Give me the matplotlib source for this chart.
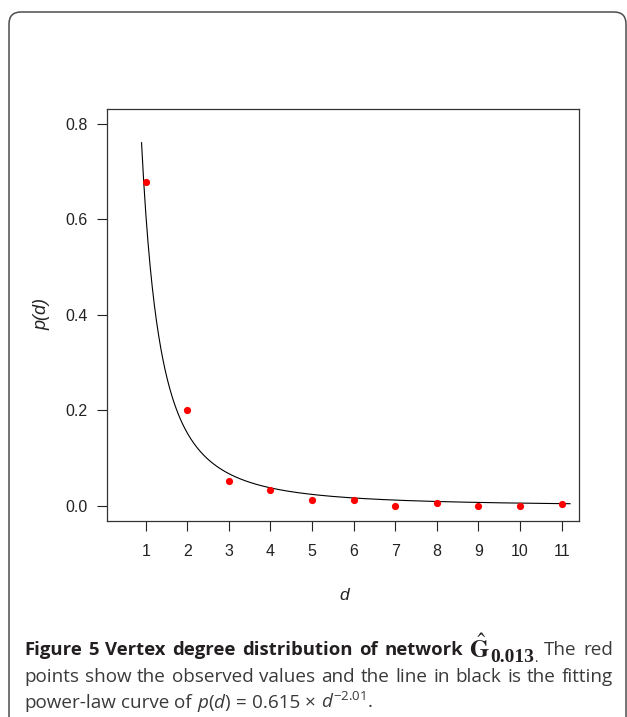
"""
Vertex degree distribution with fitted power-law curve (figure 5 style).
"""

import numpy as np
import matplotlib
matplotlib.use('Agg')
import matplotlib.pyplot as plt
from matplotlib.patches import FancyBboxPatch

# observed degree distribution
degrees = [1, 2, 3, 4, 5, 6, 7, 8, 9, 10, 11]
p_obs = [0.678, 0.200, 0.053, 0.034, 0.012, 0.012, 0.0, 0.006, 0.0, 0.0, 0.004]

# fitted power law p(d) = coef * d^expo, as quoted in the caption
fit_coef = 0.615
fit_expo = -2.01
fit_range = (0.9, 11.2)

yticks = [0.0, 0.2, 0.4, 0.6, 0.8]
ytick_labels = ['0.0', '0.2', '0.4', '0.6', '0.8']

W, H = 627, 717
plt.rcParams['mathtext.fontset'] = 'custom'
plt.rcParams['mathtext.rm'] = 'Open Sans'
plt.rcParams['mathtext.it'] = 'Open Sans:italic'
plt.rcParams['mathtext.bf'] = 'Open Sans:bold'

AXFONT = 'Liberation Sans'
CAPFONT = 'Open Sans'


def fx(px):
    return px / W


def fy(py):
    return 1 - py / H


def main():
    fig = plt.figure(figsize=(W / 100, H / 100), dpi=100)

    # rounded frame around the whole figure panel
    frame = FancyBboxPatch((0.09, -0.5), 6.17, 7.55,
                           boxstyle='round,pad=0,rounding_size=0.12',
                           transform=fig.dpi_scale_trans,
                           facecolor='none', edgecolor='#4d4d4d', linewidth=1.1)
    fig.add_artist(frame)

    left, right, top, bottom = 107, 579, 109, 521
    ax = fig.add_axes([fx(left), fy(bottom), fx(right - left), (bottom - top) / H])

    d = np.linspace(fit_range[0], fit_range[1], 400)
    ax.plot(d, fit_coef * d ** fit_expo, color='black', linewidth=0.8)
    ax.plot(degrees, p_obs, 'o', color='#ff0000', markersize=5.2, markeredgewidth=0)

    ax.set_xlim(0.07, 11.416)
    ax.set_ylim(-0.0314, 0.8305)
    ax.set_xticks(degrees)
    ax.set_xticklabels([str(v) for v in degrees], fontfamily=AXFONT, fontsize=11.5)
    ax.set_yticks(yticks)
    ax.set_yticklabels(ytick_labels, fontfamily=AXFONT, fontsize=11.5)
    ax.tick_params(axis='both', direction='out', length=7.2, width=0.8, colors='#222222')
    ax.tick_params(axis='x', pad=9)
    ax.tick_params(axis='y', pad=7)
    for sp in ax.spines.values():
        sp.set_color('#333333')
        sp.set_linewidth(0.9)

    fig.text(fx(41.7), fy(313.5), 'p(d)', rotation=90, ha='center', va='center',
             fontsize=13, style='italic', family=AXFONT, color='#222222')
    fig.text(fx(344), fy(595), 'd', style='italic', ha='center', va='center',
             fontsize=12.5, family=AXFONT, color='#222222')

    # caption, laid out word by word so the first two lines are justified
    renderer = fig.canvas.get_renderer()
    bold = dict(family=CAPFONT, fontweight='bold', fontsize=13.3, color='#231f20')
    reg = dict(family=CAPFONT, fontsize=13.6, color='#3a3a3a')
    ghat = dict(fontsize=18, color='#231f20', math_fontfamily='stix')
    gsub = dict(family='Liberation Serif', fontweight='bold', fontsize=14, color='#231f20')
    gdot = dict(family='Liberation Serif', fontsize=10, color='#231f20')

    # token: (text, props, baseline shift in px, glued to previous token)
    line1 = [(w, bold, 0, False) for w in
             'Figure 5 Vertex degree distribution of network'.split()]
    line1 += [(r'$\hat{\mathbf{G}}$', ghat, 3, False),
              ('0.013', gsub, 7, True), ('.', gdot, 7, True)]
    line1 += [(w, reg, 0, False) for w in 'The red'.split()]
    line2 = [(w, reg, 0, False) for w in
             'points show the observed values and the line in black is the fitting'.split()]
    line3 = [(w, reg, 0, False) for w in 'power-law curve of'.split()]
    line3 += [(r'$p$($d$)', reg, 0, False), ('=', reg, 0, False), ('0.615', reg, 0, False),
              ('\u00d7', reg, 0, False), (r'$d^{-2.01}$.', reg, 0, False)]

    x0, x1 = 24, 613
    space = 0.26 * 13.6 * 100 / 72

    def lay(tokens, baseline, justify):
        texts = [fig.text(0, fy(baseline + dy), t, va='baseline', ha='left', **kw)
                 for t, kw, dy, _ in tokens]
        widths = [t.get_window_extent(renderer).width for t in texts]
        n_gaps = sum(1 for tok in tokens[1:] if not tok[3])
        gap = space
        if justify:
            gap = (x1 - x0 - sum(widths)) / n_gaps
        x = x0
        for i, (t, w) in enumerate(zip(texts, widths)):
            if i > 0:
                x += 0 if tokens[i][3] else gap
            t.set_x(fx(x))
            x += w

    lay(line1, 655, True)
    lay(line2, 681.5, True)
    lay(line3, 708, False)

    fig.savefig('out.png', dpi=100)
    plt.close(fig)


if __name__ == '__main__':
    main()
